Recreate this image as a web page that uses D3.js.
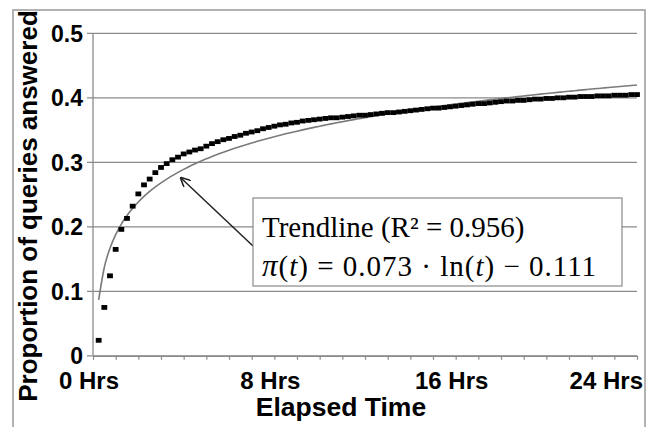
<!DOCTYPE html>
<html>
<head>
<meta charset="utf-8">
<script src="https://cdn.jsdelivr.net/npm/d3@7"></script>
<style>
  body { margin: 0; background: #fff; }
  svg { display: block; }
</style>
</head>
<body>
<svg width="650" height="427"></svg>
<script>
// elapsed time of each sample, in hours (every 15 minutes)
var hours = [
  0.25, 0.5, 0.75, 1, 1.25, 1.5, 1.75, 2, 2.25, 2.5, 2.75, 3,
  3.25, 3.5, 3.75, 4, 4.25, 4.5, 4.75, 5, 5.25, 5.5, 5.75, 6,
  6.25, 6.5, 6.75, 7, 7.25, 7.5, 7.75, 8, 8.25, 8.5, 8.75, 9,
  9.25, 9.5, 9.75, 10, 10.25, 10.5, 10.75, 11, 11.25, 11.5, 11.75, 12,
  12.25, 12.5, 12.75, 13, 13.25, 13.5, 13.75, 14, 14.25, 14.5, 14.75, 15,
  15.25, 15.5, 15.75, 16, 16.25, 16.5, 16.75, 17, 17.25, 17.5, 17.75, 18,
  18.25, 18.5, 18.75, 19, 19.25, 19.5, 19.75, 20, 20.25, 20.5, 20.75, 21,
  21.25, 21.5, 21.75, 22, 22.25, 22.5, 22.75, 23, 23.25, 23.5, 23.75, 24
];

// proportion of queries answered at each sample
var answered = [
  0.024, 0.075, 0.124, 0.165, 0.196, 0.213, 0.232, 0.251, 0.265, 0.274, 0.284, 0.292,
  0.298, 0.304, 0.308, 0.313, 0.316, 0.319, 0.321, 0.325, 0.329, 0.332, 0.335, 0.337,
  0.340, 0.342, 0.345, 0.347, 0.349, 0.352, 0.354, 0.356, 0.358, 0.359, 0.361, 0.362,
  0.364, 0.365, 0.366, 0.367, 0.368, 0.369, 0.369, 0.370, 0.371, 0.372, 0.373, 0.373,
  0.374, 0.375, 0.376, 0.377, 0.377, 0.378, 0.379, 0.380, 0.381, 0.382, 0.383, 0.384,
  0.384, 0.385, 0.386, 0.387, 0.388, 0.389, 0.390, 0.391, 0.391, 0.392, 0.393, 0.394,
  0.395, 0.395, 0.396, 0.396, 0.397, 0.398, 0.398, 0.399, 0.399, 0.400, 0.400, 0.401,
  0.401, 0.402, 0.402, 0.402, 0.403, 0.403, 0.403, 0.404, 0.404, 0.404, 0.405, 0.405
];

// fitted trendline  pi(t) = a*ln(t) + b , t in minutes
var trendA = 0.073;
var trendB = -0.111;

var yTicks = [0, 0.1, 0.2, 0.3, 0.4, 0.5];
var yTickLabels = ["0", "0.1", "0.2", "0.3", "0.4", "0.5"];
var xTicks = [0, 8, 16, 24];
var xTickLabels = ["0 Hrs", "8 Hrs", "16 Hrs", "24 Hrs"];
var xMinorTicks = [0, 1, 2, 3, 4, 5, 6, 7, 8, 9, 10, 11, 12, 13, 14, 15, 16, 17, 18, 19, 20, 21, 22, 23, 24];

var svg = d3.select("svg");
var plotLeft = 93, plotRight = 637, plotTop = 33.3, plotBottom = 355.8;
var grey = "#8a8a8a";
var sans = "'Liberation Sans', Arial, sans-serif";
var serif = "'Liberation Serif', 'Times New Roman', serif";

var x = d3.scaleLinear().domain([0, 24]).range([plotLeft, plotRight]);
var y = d3.scaleLinear().domain([0, 0.5]).range([plotBottom, plotTop]);

// outer chart frame
svg.append("rect")
  .attr("x", 13).attr("y", 10)
  .attr("width", 632).attr("height", 440)
  .style("fill", "none").style("stroke", "#999").style("stroke-width", 1.5);

// horizontal gridlines (they stick out left as ticks)
svg.append("g").selectAll("line")
  .data(yTicks).enter()
  .append("line")
  .attr("x1", plotLeft - 6).attr("x2", plotRight)
  .attr("y1", function(d) { return y(d); })
  .attr("y2", function(d) { return y(d); })
  .style("stroke", grey).style("stroke-width", 1.3);

// y axis line
svg.append("line")
  .attr("x1", plotLeft).attr("x2", plotLeft)
  .attr("y1", plotTop).attr("y2", plotBottom)
  .style("stroke", grey).style("stroke-width", 1.3);

// x axis with hourly ticks
var xAxis = svg.append("g")
  .attr("transform", "translate(0," + plotBottom + ")")
  .call(d3.axisBottom(x).tickValues(xMinorTicks).tickSize(4).tickSizeOuter(0).tickFormat(""));
xAxis.select(".domain").style("stroke", grey).style("stroke-width", 1.3);
xAxis.selectAll(".tick line").style("stroke", grey).style("stroke-width", 1.2);

// y tick labels
svg.append("g").selectAll("text")
  .data(yTicks).enter()
  .append("text")
  .attr("x", 83)
  .attr("y", function(d) { return y(d); })
  .attr("dy", "0.36em")
  .attr("text-anchor", "end")
  .style("font-family", sans).style("font-weight", "bold").style("font-size", "23px")
  .text(function(d, i) { return yTickLabels[i]; });

// x tick labels
svg.append("g").selectAll("text")
  .data(xTicks).enter()
  .append("text")
  .attr("x", function(d, i) { return i == xTicks.length - 1 ? 643 : x(d) - 4; })
  .attr("y", 389)
  .attr("text-anchor", function(d, i) { return i == xTicks.length - 1 ? "end" : "middle"; })
  .style("font-family", sans).style("font-weight", "bold").style("font-size", "24px")
  .text(function(d, i) { return xTickLabels[i]; });

// axis titles
svg.append("text")
  .attr("x", 341).attr("y", 416)
  .attr("text-anchor", "middle")
  .style("font-family", sans).style("font-weight", "bold").style("font-size", "26.5px")
  .text("Elapsed Time");

svg.append("text")
  .attr("transform", "translate(37,206) rotate(-90)")
  .attr("text-anchor", "middle")
  .style("font-family", sans).style("font-weight", "bold").style("font-size", "26px")
  .text("Proportion of queries answered");

// trendline
var trend = d3.line()
  .x(function(d) { return x(d); })
  .y(function(d) { return y(trendA * Math.log(d * 60) + trendB); })
  .curve(d3.curveMonotoneX);

svg.append("path")
  .datum(hours)
  .attr("d", trend)
  .style("fill", "none").style("stroke", "#7a7a7a").style("stroke-width", 1.6);

// observed points (square markers, they merge into a band where dense)
svg.append("g").selectAll("rect")
  .data(hours).enter()
  .append("rect")
  .attr("x", function(d) { return x(d) - 2.9; })
  .attr("y", function(d, i) { return y(answered[i]) - 2.4; })
  .attr("width", 5.8).attr("height", 4.8)
  .style("fill", "#000");

// annotation arrow
svg.append("defs").append("marker")
  .attr("id", "head")
  .attr("viewBox", "0 0 10 10")
  .attr("refX", 9).attr("refY", 5)
  .attr("markerWidth", 10).attr("markerHeight", 10)
  .attr("markerUnits", "userSpaceOnUse")
  .attr("orient", "auto")
  .append("path")
  .attr("d", "M0,0 L10,5 L0,10")
  .style("fill", "none").style("stroke", "#222").style("stroke-width", 1.6);

svg.append("line")
  .attr("x1", 253).attr("y1", 246)
  .attr("x2", 181).attr("y2", 178)
  .attr("marker-end", "url(#head)")
  .style("stroke", "#222").style("stroke-width", 1.5);

// annotation box
svg.append("rect")
  .attr("x", 253).attr("y", 198)
  .attr("width", 369).attr("height", 88)
  .style("fill", "#fff").style("stroke", grey).style("stroke-width", 1.2);

var note = svg.append("g")
  .style("font-family", serif).style("font-size", "29px").style("fill", "#000");

var line1 = note.append("text").attr("x", 262).attr("y", 237);
line1.append("tspan").text("Trendline (R");
line1.append("tspan").text("\u00b2");
line1.append("tspan").text(" = 0.956)");

var line2 = note.append("text").attr("x", 262).attr("y", 276)
  .style("letter-spacing", "1px");
line2.append("tspan").style("font-style", "italic").style("font-size", "31px").text("\u03c0");
line2.append("tspan").text("(");
line2.append("tspan").style("font-style", "italic").text("t");
line2.append("tspan").text(") = 0.073 \u00b7 ln(");
line2.append("tspan").style("font-style", "italic").text("t");
line2.append("tspan").text(") \u2212 0.111");
</script>
</body>
</html>
